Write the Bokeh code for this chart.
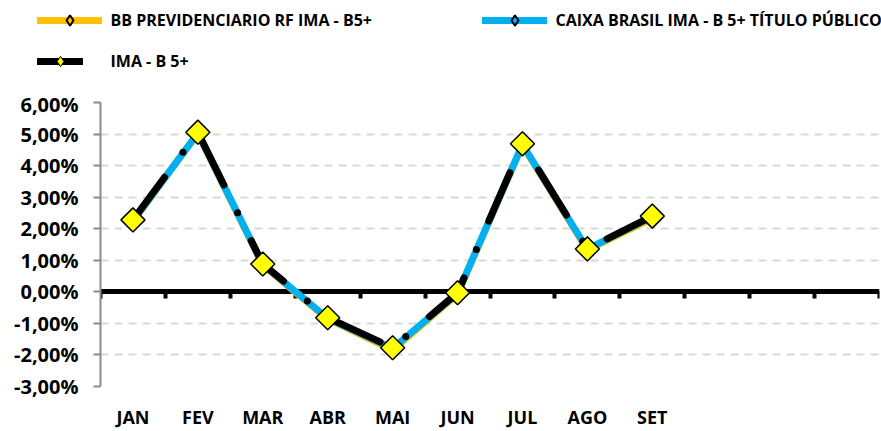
from bokeh.plotting import figure
from bokeh.layouts import column
from bokeh.models import Range1d, LinearAxis, FixedTicker, Legend, LegendItem
from bokeh.embed import file_html
from bokeh.resources import INLINE
import math

# ---- data ----
months = ["JAN", "FEV", "MAR", "ABR", "MAI", "JUN", "JUL", "AGO", "SET"]
n_slots = 12  # axis spans the whole year
bb_prev = [2.24, 5.02, 0.85, -0.86, -1.85, -0.07, 4.65, 1.33, 2.33]
caixa = [2.25, 5.03, 0.87, -0.84, -1.79, -0.05, 4.67, 1.35, 2.38]
ima_b5 = [2.28, 5.06, 0.88, -0.82, -1.77, -0.03, 4.69, 1.36, 2.40]
y_ticks = [-3, -2, -1, 0, 1, 2, 3, 4, 5, 6]
names = ["BB PREVIDENCIARIO RF IMA - B5+",
         "CAIXA BRASIL IMA - B 5+ TÍTULO PÚBLICO",
         "IMA - B 5+"]

FONT = "Open Sans"
C_BB, C_CX, C_IM, C_MK = "#FFC000", "#00B0F0", "black", "#FFFF00"
x = [i + 0.5 for i in range(len(months))]
ang = math.pi / 4

LEG_H = 90
p = figure(width=881, height=431 - LEG_H, x_range=Range1d(0, n_slots), y_range=Range1d(-3, 6),
           output_backend="svg", toolbar_location=None, x_axis_location=None,
           min_border_left=100, min_border_right=2, min_border_top=12, min_border_bottom=44)
p.outline_line_color = None
p.background_fill_color = "white"
p.border_fill_color = "white"
p.frame_align = False

# y axis
ya = p.yaxis[0]
ya.ticker = FixedTicker(ticks=y_ticks)
ya.major_label_overrides = {t: ("%.2f%%" % t).replace(".", ",") for t in y_ticks}
ya.axis_line_color = "#8a8a8a"
ya.axis_line_width = 2
ya.major_tick_line_color = "#8a8a8a"
ya.major_tick_line_width = 2
ya.major_tick_out = 7
ya.major_tick_in = 0
ya.minor_tick_line_color = None
ya.major_label_text_font = FONT
ya.major_label_text_font_style = "bold"
ya.major_label_text_font_size = "20px"
ya.major_label_text_color = "black"
ya.major_label_standoff = 15

# grid
yg = p.ygrid[0]
yg.ticker = FixedTicker(ticks=[t for t in y_ticks if t != 0])
yg.grid_line_color = "#d9d9d9"
yg.grid_line_width = 2
yg.grid_line_dash = "8 6"
p.xgrid.visible = False

# month labels axis (bottom)
ma = LinearAxis(ticker=FixedTicker(ticks=x))
ma.major_label_overrides = {xi: m for xi, m in zip(x, months)}
ma.axis_line_color = None
ma.major_tick_line_color = None
ma.major_tick_out = 0
ma.major_tick_in = 0
ma.minor_tick_line_color = None
ma.major_label_text_font = FONT
ma.major_label_text_font_style = "bold"
ma.major_label_text_font_size = "18px"
ma.major_label_text_color = "black"
ma.major_label_standoff = 18
p.add_layout(ma, "below")

# zero line axis with boundary ticks
bounds = list(range(n_slots + 1))
za = LinearAxis(ticker=FixedTicker(ticks=bounds), fixed_location=0)
za.major_label_overrides = {b: "" for b in bounds}
za.axis_line_color = "black"
za.axis_line_width = 5
za.major_tick_line_color = "black"
za.major_tick_line_width = 4
za.major_tick_in = 7
za.major_tick_out = 0
za.minor_tick_line_color = None
za.major_label_standoff = 0
za.level = "underlay"
p.add_layout(za, "above")

p.line(x, bb_prev, line_color=C_BB, line_width=7, line_cap="round", line_join="round")
p.line(x, caixa, line_color=C_CX, line_width=7, line_cap="round", line_join="round")
p.line(x, ima_b5, line_color=C_IM, line_width=7, line_cap="round", line_join="round",
       line_dash="53 31 0 31")
p.scatter(x, ima_b5, marker="square", angle=ang, size=17, fill_color=C_MK,
          line_color="black", line_width=1.5)

# ---- legend strip (separate figure on top; its series are hidden, only the keys show) ----
lf = figure(width=881, height=LEG_H, output_backend="svg", toolbar_location=None,
            x_axis_location=None, y_axis_location=None,
            min_border_left=0, min_border_right=0, min_border_top=0, min_border_bottom=0)
lf.outline_line_color = None
lf.grid.visible = False
lf.frame_align = False

lr_bb = lf.line(x, bb_prev, line_color=C_BB, line_width=7, line_cap="round", visible=False)
lm_bb = lf.scatter(x, bb_prev, marker="diamond", fill_color=C_BB,
                   line_color="black", line_width=2, visible=False)
lr_cx = lf.line(x, caixa, line_color=C_CX, line_width=7, line_cap="round", visible=False)
lm_cx = lf.scatter(x, caixa, marker="diamond", fill_color=C_CX,
                   line_color="black", line_width=2, visible=False)
lr_im = lf.line(x, ima_b5, line_color=C_IM, line_width=7, line_cap="round", visible=False)
lm_im = lf.scatter(x, ima_b5, marker="diamond", fill_color=C_MK,
                   line_color="black", line_width=1, visible=False)

def style_legend(lg):
    lg.border_line_color = None
    lg.background_fill_alpha = 0
    lg.inactive_fill_alpha = 0
    lg.padding = 0
    lg.margin = 0
    lg.label_text_font = FONT
    lg.label_text_font_style = "bold"
    lg.label_text_font_size = "16px"
    lg.label_text_color = "black"
    lg.glyph_height = 26
    lg.label_height = 26

leg_a = Legend(items=[LegendItem(label=names[0], renderers=[lr_bb, lm_bb]),
                      LegendItem(label=names[1], renderers=[lr_cx, lm_cx])],
               orientation="horizontal", location=(36.5, 57))
style_legend(leg_a)
leg_a.glyph_width = 65
leg_a.label_standoff = 9
leg_a.label_width = 262
leg_a.spacing = 109
lf.add_layout(leg_a, "center")

leg_b = Legend(items=[LegendItem(label=names[2], renderers=[lr_im, lm_im])],
               orientation="horizontal", location=(36.5, 16))
style_legend(leg_b)
leg_b.glyph_width = 46
leg_b.label_standoff = 28
lf.add_layout(leg_b, "center")

layout = column(lf, p, spacing=0)
open("out.html", "w").write(file_html(layout, INLINE))
